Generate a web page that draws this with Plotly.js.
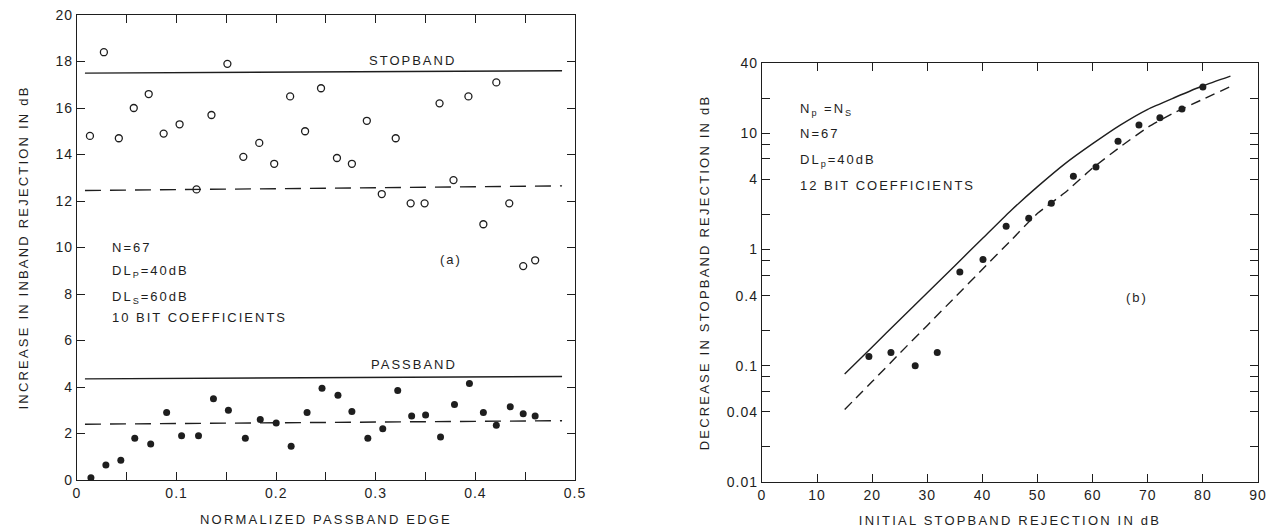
<!DOCTYPE html>
<html>
<head>
<meta charset="utf-8">
<script src="https://cdn.plot.ly/plotly-3.0.1.min.js"></script>
<style>
  html, body { margin: 0; padding: 0; background: #fff; }
  #chart { width: 1282px; height: 528px; }
  .main-svg text.xtitle, .main-svg text.ytitle, .main-svg text.x2title, .main-svg text.y2title { letter-spacing: 2.2px; }
  .main-svg .annotation-text { letter-spacing: 2px; }
  .main-svg .xtick text, .main-svg .ytick text, .main-svg .x2tick text, .main-svg .y2tick text { letter-spacing: 1px; }
</style>
</head>
<body>
<div id="chart"></div>
<script>
// ---------- Panel (a): increase in inband rejection vs normalized passband edge ----------
const stopX = [0.013,0.027,0.042,0.057,0.072,0.087,0.103,0.120,0.135,0.151,0.167,0.183,0.198,0.214,0.229,0.245,0.261,0.276,0.291,0.306,0.320,0.335,0.349,0.364,0.378,0.393,0.408,0.421,0.434,0.448,0.460];
const stopY = [14.8,18.4,14.7,16.0,16.6,14.9,15.3,12.5,15.7,17.9,13.9,14.5,13.6,16.5,15.0,16.85,13.85,13.6,15.45,12.3,14.7,11.9,11.9,16.2,12.9,16.5,11.0,17.1,11.9,9.2,9.45];

const passX = [0.014,0.029,0.044,0.058,0.074,0.090,0.105,0.122,0.137,0.152,0.169,0.184,0.200,0.215,0.231,0.246,0.262,0.276,0.292,0.307,0.322,0.336,0.350,0.365,0.379,0.394,0.408,0.421,0.435,0.448,0.460];
const passY = [0.1,0.65,0.85,1.8,1.55,2.9,1.9,1.9,3.5,3.0,1.8,2.6,2.45,1.45,2.9,3.95,3.65,2.95,1.8,2.2,3.85,2.75,2.8,1.85,3.25,4.15,2.9,2.35,3.15,2.85,2.75];

const refX = [0.008, 0.487];
const stopSolid = [17.5, 17.6];
const stopDashed = [12.45, 12.65];
const passSolid = [4.35, 4.45];
const passDashed = [2.4, 2.55];

const aXTicks = [0, 0.1, 0.2, 0.3, 0.4, 0.5];
const aXMinor = [0.05, 0.15, 0.25, 0.35, 0.45];
const aYTicks = [0, 2, 4, 6, 8, 10, 12, 14, 16, 18, 20];

// ---------- Panel (b): decrease in stopband rejection vs initial stopband rejection ----------
const rejX = [19.4,23.4,27.8,31.8,35.9,40.1,44.3,48.4,52.5,56.5,60.6,64.6,68.4,72.2,76.2,80.0];
const rejY = [0.12,0.13,0.10,0.13,0.64,0.82,1.58,1.85,2.49,4.26,5.1,8.5,11.7,13.5,16.1,24.9];

const curveX = [15,20,25,30,35,40,45,50,55,60,65,70,75,80,85];
const solidY = [0.085,0.145,0.248,0.424,0.724,1.24,2.12,3.46,5.46,8.1,11.7,16.0,20.3,25.5,30.9];
const dashY  = [0.042,0.073,0.128,0.222,0.387,0.675,1.17,2.04,3.08,5.0,7.6,11.2,15.1,19.5,25.1];

const bXTicks = [0,10,20,30,40,50,60,70,80,90];
const bYTicks = [0.01,0.04,0.1,0.4,1,4,10,40];
const bYMinor = [0.02,0.06,0.08,0.2,0.6,0.8,2,6,8,20];

const INK = '#1e1e1e';
const FONT = 'Liberation Sans, Arial, sans-serif';

const traces = [
  {x: refX, y: stopSolid, mode: 'lines', line: {color: INK, width: 1.4}, xaxis: 'x', yaxis: 'y', hoverinfo: 'skip'},
  {x: refX, y: stopDashed, mode: 'lines', line: {color: INK, width: 1.4, dash: '16px,9px'}, xaxis: 'x', yaxis: 'y', hoverinfo: 'skip'},
  {x: refX, y: passSolid, mode: 'lines', line: {color: INK, width: 1.4}, xaxis: 'x', yaxis: 'y', hoverinfo: 'skip'},
  {x: refX, y: passDashed, mode: 'lines', line: {color: INK, width: 1.4, dash: '16px,9px'}, xaxis: 'x', yaxis: 'y', hoverinfo: 'skip'},
  {x: stopX, y: stopY, mode: 'markers', marker: {symbol: 'circle-open', size: 7, color: INK, line: {width: 1.3, color: INK}}, xaxis: 'x', yaxis: 'y'},
  {x: passX, y: passY, mode: 'markers', marker: {symbol: 'circle', size: 7, color: INK}, xaxis: 'x', yaxis: 'y'},
  {x: curveX, y: solidY, mode: 'lines', line: {color: INK, width: 1.4, shape: 'spline', smoothing: 0.5}, xaxis: 'x2', yaxis: 'y2', hoverinfo: 'skip'},
  {x: curveX, y: dashY, mode: 'lines', line: {color: INK, width: 1.4, dash: '10px,6px', shape: 'spline', smoothing: 0.5}, xaxis: 'x2', yaxis: 'y2', hoverinfo: 'skip'},
  {x: rejX, y: rejY, mode: 'markers', marker: {symbol: 'circle', size: 7, color: INK}, xaxis: 'x2', yaxis: 'y2'}
];

const axisCommon = {
  showline: true, linecolor: INK, linewidth: 1.3, mirror: 'ticks',
  ticks: 'inside', ticklen: 8, tickwidth: 1.3, tickcolor: INK,
  showgrid: false, zeroline: false,
  tickfont: {family: FONT, size: 14, color: INK}
};
const minorCommon = {ticks: 'inside', ticklen: 8, tickwidth: 1.3, tickcolor: INK, showgrid: false};

const titleFont = {family: FONT, size: 13, color: INK};
const annFont = {family: FONT, size: 13, color: INK};

function ann(text, x, y, xref, yref, anchor) {
  return {text: text, x: x, y: y, xref: xref, yref: yref, showarrow: false,
          xanchor: anchor || 'left', yanchor: 'middle', align: anchor || 'left', font: annFont};
}

// plot area: x 20..1262, y 15..482
const layout = {
  width: 1282, height: 528,
  margin: {l: 20, r: 20, t: 15, b: 46},
  paper_bgcolor: '#ffffff', plot_bgcolor: '#ffffff',
  showlegend: false,
  xaxis: Object.assign({}, axisCommon, {
    domain: [0.04589, 0.44686], range: [0, 0.5], anchor: 'y',
    tickmode: 'array', tickvals: aXTicks, ticktext: aXTicks.map(String),
    minor: Object.assign({}, minorCommon, {tickmode: 'array', tickvals: aXMinor}),
    title: {text: 'NORMALIZED PASSBAND EDGE', font: titleFont, standoff: 14}
  }),
  yaxis: Object.assign({}, axisCommon, {
    domain: [0.00428, 1], range: [0, 20], anchor: 'x',
    tickmode: 'array', tickvals: aYTicks, ticktext: aYTicks.map(String),
    title: {text: 'INCREASE IN INBAND REJECTION IN dB', font: titleFont, standoff: 25}
  }),
  xaxis2: Object.assign({}, axisCommon, {
    domain: [0.59742, 0.99678], range: [0, 90], anchor: 'y2',
    tickmode: 'array', tickvals: bXTicks, ticktext: bXTicks.map(String),
    title: {text: 'INITIAL STOPBAND REJECTION IN dB', font: titleFont, standoff: 14}
  }),
  yaxis2: Object.assign({}, axisCommon, {
    domain: [0, 0.89722], type: 'log', range: [-2, Math.log10(40)], anchor: 'x2',
    tickmode: 'array', tickvals: bYTicks, ticktext: bYTicks.map(String),
    minor: Object.assign({}, minorCommon, {tickmode: 'array', tickvals: bYMinor}),
    title: {text: 'DECREASE IN STOPBAND REJECTION IN dB', font: titleFont, standoff: 18}
  }),
  annotations: [
    ann('STOPBAND', 0.337, 18.06, 'x', 'y', 'center'),
    ann('PASSBAND', 0.338, 4.95, 'x', 'y', 'center'),
    ann('(a)', 0.376, 9.5, 'x', 'y', 'center'),
    ann('N=67', 0.033, 9.98, 'x', 'y'),
    ann('DL<sub>P</sub>=40dB', 0.033, 8.95, 'x', 'y'),
    ann('DL<sub>S</sub>=60dB', 0.033, 7.85, 'x', 'y'),
    ann('10 BIT COEFFICIENTS', 0.033, 7.0, 'x', 'y'),
    ann('N<sub>p</sub> =N<sub>S</sub>', 6.5, 1.2, 'x2', 'y2'),
    ann('N=67', 6.5, 1.0, 'x2', 'y2'),
    ann('DL<sub>p</sub>=40dB', 6.5, 0.76, 'x2', 'y2'),
    ann('12 BIT COEFFICIENTS', 6.5, 0.552, 'x2', 'y2'),
    ann('(b)', 68, -0.414, 'x2', 'y2', 'center')
  ]
};

Plotly.newPlot('chart', traces, layout, {displayModeBar: false});
</script>
</body>
</html>
